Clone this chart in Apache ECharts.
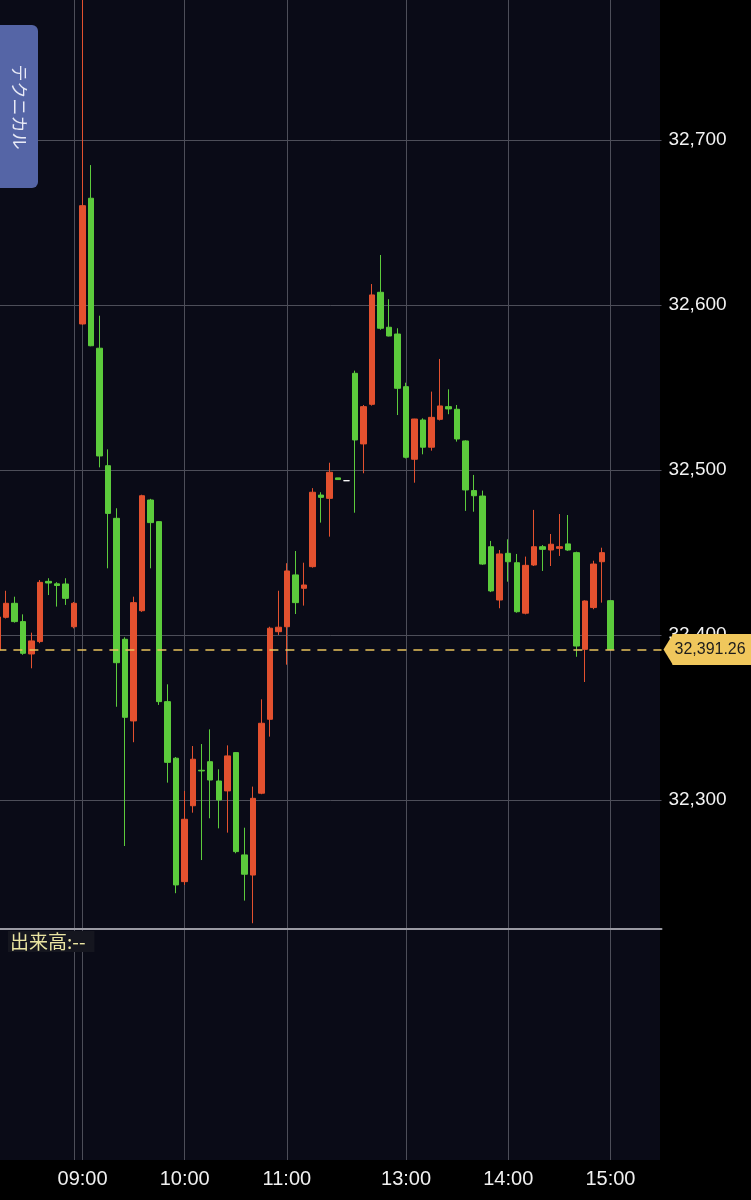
<!DOCTYPE html>
<html>
<head>
<meta charset="utf-8">
<script src="https://cdn.jsdelivr.net/npm/echarts@6/dist/echarts.min.js"></script>
<style>
html,body{margin:0;padding:0;background:#000;}
#c{width:751px;height:1200px;}
</style>
</head>
<body>
<div id="c"></div>
<script>
// ---------- data ----------
const prevDayTimes = ['14:15','14:20','14:25','14:30','14:35','14:40','14:45','14:50','14:55','15:00'];
const todayTimes = [
  '09:00','09:05','09:10','09:15','09:20','09:25','09:30','09:35','09:40','09:45','09:50','09:55',
  '10:00','10:05','10:10','10:15','10:20','10:25','10:30','10:35','10:40','10:45','10:50','10:55',
  '11:00','11:05','11:10','11:15','11:20','11:25','11:30','11:35',
  '12:30','12:35','12:40','12:45','12:50','12:55',
  '13:00','13:05','13:10','13:15','13:20','13:25','13:30','13:35','13:40','13:45','13:50','13:55',
  '14:00','14:05','14:10','14:15','14:20','14:25','14:30','14:35','14:40','14:45','14:50','14:55',
  '15:00'
];
const futureTimes = ['15:05','15:10','15:15','15:20','15:25','15:30'];

// [open, close, low, high]
const prevDayCandles = [
  [32390.9, 32410.9, 32389.0, 32412.0],
  [32410.7, 32419.2, 32410.0, 32426.8],
  [32419.2, 32408.1, 32407.5, 32423.2],
  [32408.1, 32388.9, 32388.0, 32412.5],
  [32388.5, 32396.4, 32379.8, 32401.4],
  [32396.0, 32431.9, 32395.0, 32433.3],
  [32432.5, 32431.5, 32424.2, 32434.4],
  [32431.0, 32430.0, 32417.2, 32432.0],
  [32430.9, 32422.2, 32418.2, 32434.4],
  [32405.0, 32419.2, 32404.0, 32420.0]
];
const todayCandles = [
  [32588.5, 32660.2, 32588.0, 32786.0],
  [32664.7, 32575.3, 32575.0, 32684.8],
  [32573.8, 32508.5, 32501.6, 32593.5],
  [32502.6, 32473.7, 32440.4, 32512.5],
  [32470.7, 32383.2, 32356.5, 32476.8],
  [32397.4, 32350.1, 32272.1, 32398.6],
  [32347.9, 32419.6, 32335.0, 32423.2],
  [32414.7, 32484.4, 32414.0, 32485.0],
  [32481.8, 32468.1, 32440.4, 32482.5],
  [32468.7, 32359.6, 32357.6, 32469.0],
  [32359.6, 32322.8, 32310.5, 32370.1],
  [32325.3, 32248.5, 32243.5, 32326.0],
  [32250.5, 32288.3, 32248.5, 32305.5],
  [32296.5, 32324.7, 32292.3, 32332.7],
  [32318.0, 32317.6, 32263.6, 32333.9],
  [32323.2, 32312.1, 32288.9, 32342.8],
  [32311.5, 32300.0, 32282.8, 32318.6],
  [32305.5, 32326.7, 32280.2, 32333.1],
  [32328.7, 32268.7, 32267.7, 32329.0],
  [32266.7, 32255.0, 32239.0, 32283.2],
  [32254.5, 32301.0, 32225.3, 32308.1],
  [32304.1, 32346.5, 32303.5, 32361.0],
  [32348.9, 32404.1, 32338.4, 32405.0],
  [32402.0, 32404.7, 32400.0, 32426.8],
  [32405.0, 32438.8, 32382.0, 32443.5],
  [32436.4, 32419.6, 32412.7, 32450.9],
  [32428.3, 32430.3, 32417.8, 32443.8],
  [32441.4, 32486.5, 32440.8, 32489.0],
  [32484.8, 32483.4, 32468.1, 32486.5],
  [32482.8, 32498.6, 32459.6, 32504.4],
  [32495.2, 32494.2, 32494.2, 32495.2],
  [32493.5, 32493.5, 32493.5, 32493.5],
  [32558.6, 32518.2, 32474.1, 32560.2],
  [32515.8, 32538.4, 32498.0, 32539.4],
  [32539.8, 32606.1, 32539.0, 32612.7],
  [32607.7, 32585.9, 32585.0, 32630.3],
  [32586.5, 32581.2, 32581.0, 32603.5],
  [32582.4, 32549.5, 32533.3, 32585.9],
  [32550.5, 32507.7, 32507.0, 32552.9],
  [32506.5, 32530.9, 32492.3, 32531.0],
  [32530.3, 32513.8, 32509.5, 32531.3],
  [32513.8, 32531.9, 32511.7, 32547.5],
  [32530.7, 32538.8, 32530.0, 32567.3],
  [32538.4, 32537.0, 32533.8, 32548.9],
  [32536.8, 32518.8, 32517.2, 32539.4],
  [32517.6, 32487.9, 32475.2, 32518.0],
  [32487.5, 32484.4, 32474.7, 32497.0],
  [32484.2, 32443.0, 32442.5, 32487.5],
  [32453.5, 32426.7, 32426.0, 32457.0],
  [32421.2, 32449.1, 32416.2, 32451.5],
  [32449.5, 32444.4, 32432.3, 32458.0],
  [32443.8, 32414.1, 32413.5, 32449.1],
  [32413.2, 32442.2, 32412.5, 32447.5],
  [32442.4, 32453.5, 32441.8, 32475.8],
  [32453.5, 32451.9, 32438.8, 32454.5],
  [32451.5, 32455.0, 32441.8, 32461.2],
  [32452.5, 32453.5, 32447.9, 32473.3],
  [32455.2, 32451.5, 32451.0, 32472.7],
  [32449.9, 32393.3, 32386.8, 32450.5],
  [32391.3, 32420.6, 32371.5, 32421.0],
  [32416.6, 32443.0, 32415.6, 32445.0],
  [32444.4, 32449.9, 32419.6, 32452.9],
  [32420.8, 32391.26, 32391.26, 32421.0]
];

const timeTickLabels = ['09:00','10:00','11:00','13:00','14:00','15:00'];
const lastPrice = 32391.26;
const priceMin = 32221.8;
const priceMax = 32786.06;
const volumeCaption = '出来高:--';
const buttonText = 'テクニカル';

// ---------- build ----------
const categories = prevDayTimes.map(t => 'D1 ' + t)
  .concat(todayTimes.map(t => 'D2 ' + t))
  .concat(futureTimes.map(t => 'D2 ' + t));
const candles = prevDayCandles.concat(todayCandles);

const dividerIndex = prevDayTimes.length - 1;
const labelIdx = new Set();
todayTimes.forEach((t, i) => { if (timeTickLabels.indexOf(t) >= 0) labelIdx.add(prevDayTimes.length + i); });
const splitIdx = new Set(labelIdx); splitIdx.add(dividerIndex);

const fmtNum = v => Number(v).toLocaleString('en-US');
const UP = '#e3512f', DOWN = '#5ccb3c';
const GRIDC = '#4d4e59';
const TAG = '#f0c75c';

const chart = echarts.init(document.getElementById('c'), null, {renderer: 'canvas'});
const baseGraphic = [
  {type: 'rect', z: -10, silent: true, shape: {x: 0, y: 0, width: 660, height: 1160}, style: {fill: '#0a0b17'}},
  {type: 'rect', z: 100, shape: {x: -8, y: 25, width: 46, height: 163, r: 6}, style: {fill: '#5565a6'}},
  {type: 'text', z: 101, x: 19, y: 107, rotation: -Math.PI / 2,
    style: {text: buttonText, fill: '#e8eaf6', font: '17px "Noto Sans CJK JP"', align: 'center', verticalAlign: 'middle'}}
];
chart.setOption({
  animation: false,
  backgroundColor: '#000000',
  title: {
    text: volumeCaption, left: 8, top: 931,
    padding: [1, 9, 1, 2], backgroundColor: '#15161f',
    textStyle: {color: '#ebe5a2', fontSize: 19, fontWeight: 'normal', fontFamily: '"Noto Sans CJK JP"'}
  },
  graphic: baseGraphic,
  grid: [
    {left: -2.61, width: 664.1, top: -2, height: 931, outerBoundsMode: 'none', containLabel: false},
    {left: -2.61, width: 664.1, top: 930, height: 230, outerBoundsMode: 'none', containLabel: false}
  ],
  xAxis: [
    {
      type: 'category', gridIndex: 0, data: categories, boundaryGap: false,
      axisLine: {show: true, onZero: false, lineStyle: {color: '#9a9aa3', width: 2}},
      axisTick: {show: false}, axisLabel: {show: false},
      splitLine: {show: true, interval: (i) => splitIdx.has(i), lineStyle: {color: GRIDC, width: 1}}
    },
    {
      type: 'category', gridIndex: 1, data: categories, boundaryGap: false,
      axisLine: {show: false}, axisTick: {show: false},
      axisLabel: {
        interval: (i) => labelIdx.has(i), formatter: v => v.slice(3),
        color: '#f0f0f0', fontSize: 20, fontFamily: '"Liberation Sans"', margin: 9
      },
      splitLine: {show: true, interval: (i) => splitIdx.has(i), lineStyle: {color: GRIDC, width: 1}}
    }
  ],
  yAxis: [
    {
      type: 'value', gridIndex: 0, position: 'right', min: priceMin, max: priceMax, splitNumber: 5,
      axisLine: {show: false}, axisTick: {show: false},
      axisLabel: {
        color: '#f2f2f2', fontSize: 19, fontFamily: '"Liberation Sans"', margin: 7,
        showMinLabel: false, showMaxLabel: false, formatter: v => fmtNum(v)
      },
      splitLine: {show: true, lineStyle: {color: GRIDC, width: 1}}
    },
    {type: 'value', gridIndex: 1, show: false}
  ],
  series: [{
    type: 'candlestick', xAxisIndex: 0, yAxisIndex: 0,
    data: candles, barWidth: 6, clip: false,
    itemStyle: {color: UP, color0: DOWN, borderColor: UP, borderColor0: DOWN, borderColorDoji: '#ffffff', borderWidth: 1},
    markLine: {
      silent: true, symbol: ['none', 'none'], animation: false,
      data: [{yAxis: lastPrice}],
      lineStyle: {color: '#e9c35c', type: [9, 7], width: 1.5},
      label: {
        show: true, position: 'end', distance: 11,
        formatter: () => lastPrice.toLocaleString('en-US', {minimumFractionDigits: 2}),
        color: '#1c1c1c', fontSize: 16, fontFamily: '"Liberation Sans"', lineHeight: 16,
        backgroundColor: TAG, padding: [8, 12, 7, 2], borderRadius: [0, 6, 6, 0]
      }
    }
  }]
});

// pointer of the price tag, placed through the axis scale
const tagY = chart.convertToPixel({yAxisIndex: 0}, lastPrice);
const tagX = chart.convertToPixel({xAxisIndex: 0}, categories[categories.length - 1]);
chart.setOption({
  graphic: baseGraphic.concat([{
    type: 'polygon', z: 50, silent: true,
    shape: {points: [[tagX + 2, tagY], [tagX + 11.5, tagY - 15.5], [tagX + 11.5, tagY + 15.5]]},
    style: {fill: TAG}
  }])
});
</script>
</body>
</html>
